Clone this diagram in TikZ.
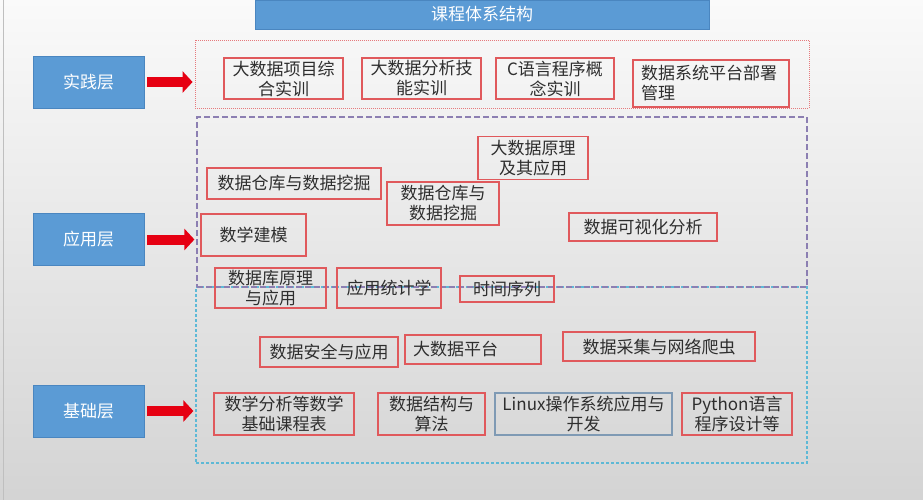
\documentclass[tikz,border=0pt]{standalone}
\usepackage{fontspec}
\newfontfamily\cjk{Noto Sans CJK SC}
\usetikzlibrary{arrows.meta}
\definecolor{cBlue}{HTML}{5B9BD5}
\definecolor{cBlueEdge}{HTML}{4A86C0}
\definecolor{cRed}{HTML}{E0595C}
\definecolor{cArrow}{HTML}{E60012}
\definecolor{cText}{HTML}{2E2E2E}
\definecolor{cPurple}{HTML}{8C7FB2}
\definecolor{cCyan}{HTML}{5DB9D6}
\definecolor{cSteel}{HTML}{7F9AB4}
\tikzset{
    layerbox/.style={fill=cBlue, draw=cBlueEdge, text=white, inner sep=0pt,
        font=\cjk\fontsize{17}{20}\selectfont},
    course/.style={draw=cRed, line width=1.3pt, text=cText, inner sep=0pt, align=center,
        font=\cjk\fontsize{17}{20}\selectfont},
    bigarrow/.style={cArrow, line width=10pt, shorten <=3pt, shorten >=2pt,
        -{Triangle[length=10pt, width=21pt]}},
}
\newcommand\course[5]{\node[course, minimum width=#3pt, minimum height=#4pt] (#1) at (#2) {#5};}
\begin{document}
\begin{tikzpicture}[x=1pt, y=-1pt]
    \useasboundingbox (0, 0) rectangle (923, 500);
    \shade[top color=black!2, bottom color=black!17] (0, 0) rectangle (923, 500);
    \draw[black!25, line width=0.8pt] (3.5, 0) -- (3.5, 500);
    \node[layerbox, minimum width=454pt, minimum height=29pt] (title) at (482, 14.5) {课程体系结构};
    \foreach \lName/\lY/\lText in {shijian/82/实践层, yingyong/239.5/应用层, jichu/411/基础层}
        \node[layerbox, minimum width=111pt, minimum height=52pt] (\lName) at (88.5, \lY) {\lText};
    \node[draw=cRed!80, line width=0.8pt, dash pattern=on 1pt off 1pt, minimum width=614pt, minimum height=68pt] (cshijian) at (502, 74) {};
    \node[draw=cCyan, line width=1.2pt, dash pattern=on 3pt off 2pt, minimum width=611pt, minimum height=176pt] (cjichu) at (501.5, 375) {};
    \node[draw=cPurple, line width=1.2pt, dash pattern=on 6pt off 3pt, minimum width=610pt, minimum height=170pt] (cyingyong) at (502, 202) {};
    \foreach \lName/\cName in {shijian/cshijian, yingyong/cyingyong, jichu/cjichu}
        \draw[bigarrow] (\lName.east) -- (\lName.east -| \cName.west);
    \course{pxiangmu}{283.5, 78.5}{119}{41}{大数据项目综\\合实训}
    \course{pfenxi}{421.5, 78.5}{119}{41}{大数据分析技\\能实训}
    \course{pcyuyan}{555, 78.5}{118}{41}{C语言程序概\\念实训}
    \node[course, align=left, inner xsep=8pt, text width=140pt, minimum height=47pt] (pbushu) at (711, 83.5) {数据系统平台部署\\管理};
    \course{ayuanli}{533, 158}{110}{43}{大数据原理\\及其应用}
    \course{acangku}{294, 183.5}{174}{31}{数据仓库与数据挖掘}
    \course{acangkuB}{443, 203.5}{112}{43}{数据仓库与\\数据挖掘}
    \course{ajianmo}{253.5, 235}{105}{42}{数学建模}
    \course{akeshi}{643, 227}{148}{28}{数据可视化分析}
    \course{ashujuku}{270.5, 288}{111}{40}{数据库原理\\与应用}
    \course{atongji}{389, 288}{104}{40}{应用统计学}
    \course{axulie}{507, 289}{94}{26}{时间序列}
    \course{fanquan}{329, 352}{138}{30}{数据安全与应用}
    \node[course, align=left, inner xsep=8pt, text width=120pt, minimum height=29pt] (fpingtai) at (473, 349.5) {大数据平台};
    \course{fcaiji}{659, 346.5}{192}{29}{数据采集与网络爬虫}
    \course{fshuxue}{284, 414}{140}{42}{数学分析等数学\\基础课程表}
    \course{fjiegou}{431.5, 414}{107}{42}{数据结构与\\算法}
    \node[course, draw=cSteel, minimum width=177pt, minimum height=42pt] (flinux) at (583.5, 414) {Linux操作系统应用与\\开发};
    \course{fpython}{737, 414}{110}{42}{Python语言\\程序设计等}
\end{tikzpicture}
\end{document}
